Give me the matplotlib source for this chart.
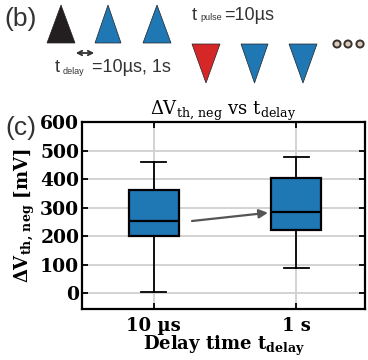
import matplotlib.pyplot as plt
from matplotlib.patches import Polygon, Circle, FancyArrowPatch

labels = ['10 µs', '1 s']
# box stats (mV)
whislo = [5, 87]
q1 = [199, 220]
med = [252, 283]
q3 = [361, 405]
whishi = [460, 479]

blue = '#1f77b4'

fig = plt.figure(figsize=(3.68, 3.6), dpi=100)

# ---- (b) pulse schematic, in figure pixels ----
W, H = 368, 360
def fx(x):
    return x / W
def fy(y):
    return 1 - y / H

def tri(x0, x1, y0, y1, up, color):
    if up:
        pts = [(x0, y1), (x1, y1), ((x0 + x1) / 2, y0)]
    else:
        pts = [(x0, y0), (x1, y0), ((x0 + x1) / 2, y1)]
    pts = [(fx(x), fy(y)) for x, y in pts]
    fig.patches.append(Polygon(pts, closed=True, facecolor=color, edgecolor='#222222',
                               lw=0.5, transform=fig.transFigure, figure=fig))

tri(47, 75, 5, 43, True, '#231f20')
tri(95, 121, 5, 43, True, blue)
tri(143, 171, 5, 43, True, blue)
tri(192, 220, 44, 83, False, '#d62728')
tri(241, 268, 44, 83, False, blue)
tri(289, 317, 44, 83, False, blue)
for cx in [337, 348, 360]:
    fig.patches.append(Circle((fx(cx), fy(44)), 3.6 / W, facecolor='#d8cbb8',
                              edgecolor='#3a3030', lw=1.4, transform=fig.transFigure, figure=fig))
fig.patches.append(FancyArrowPatch((fx(73), fy(53)), (fx(97), fy(53)), arrowstyle='<->',
                                   mutation_scale=8, lw=1.3, color='#333333',
                                   transform=fig.transFigure, figure=fig))
sans = 'Liberation Sans'
fig.text(fx(4), fy(19), '(b)', fontsize=19, color='#333333', va='center', family=sans)
fig.text(fx(5), fy(128), '(c)', fontsize=19, color='#333333', va='center', family=sans)
fig.text(fx(55), fy(68), 't', fontsize=13, color='#333333', va='center', family=sans)
fig.text(fx(63), fy(71), 'delay', fontsize=6.5, color='#333333', va='center', family=sans)
fig.text(fx(92), fy(68), '=10µs, 1s', fontsize=13, color='#333333', va='center', family=sans)
fig.text(fx(192), fy(15), 't', fontsize=13, color='#333333', va='center', family=sans)
fig.text(fx(200), fy(18), 'pulse', fontsize=6.5, color='#333333', va='center', family=sans)
fig.text(fx(224), fy(15), '=10µs', fontsize=13, color='#333333', va='center', family=sans)

# ---- (c) box plot ----
plt.rcParams['font.family'] = 'DejaVu Serif'
plt.rcParams['mathtext.fontset'] = 'dejavuserif'
ax = fig.add_axes([0.223, 0.142, 0.769, 0.519])

stats = []
for i in range(2):
    stats.append(dict(whislo=whislo[i], q1=q1[i], med=med[i], q3=q3[i], whishi=whishi[i], fliers=[]))
ax.bxp(stats, positions=[1, 2], widths=0.35, patch_artist=True, showfliers=False,
       boxprops=dict(facecolor=blue, edgecolor='black', lw=1.6),
       medianprops=dict(color='black', lw=1.6),
       whiskerprops=dict(color='black', lw=1.3),
       capprops=dict(color='black', lw=1.3))

ax.annotate('', xy=(1.82, med[1]), xytext=(1.25, med[0]),
            arrowprops=dict(arrowstyle='-|>', color='#555555', lw=1.6, mutation_scale=13))

ax.set_xlim(0.5, 2.48)
ax.set_ylim(-55, 600)
ax.set_yticks(range(0, 601, 100))
ax.set_xticks([1, 2])
ax.set_xticklabels(labels, fontweight='bold', fontsize=13)
for t in ax.get_yticklabels():
    t.set_fontweight('bold')
    t.set_fontsize(13.5)
ax.grid(True, color='#d0d0d0', lw=1.3)
ax.set_axisbelow(True)
ax.tick_params(direction='in', top=True, right=True, length=4, width=1.3, pad=6)
ax.tick_params(axis='y', pad=2)
for s in ax.spines.values():
    s.set_linewidth(1.6)

ax.set_title(r'$\Delta \mathregular{V_{th,\,neg}}$ vs $\mathregular{t_{delay}}$', fontsize=13, pad=5)
ax.set_ylabel(r'$\mathbf{\Delta V_{th,\,neg}}$ [mV]', fontweight='bold', fontsize=13, labelpad=2)
ax.set_xlabel(r'Delay time $\mathbf{t_{delay}}$', fontweight='bold', fontsize=13, labelpad=-1)

fig.savefig('out.png', dpi=100)
